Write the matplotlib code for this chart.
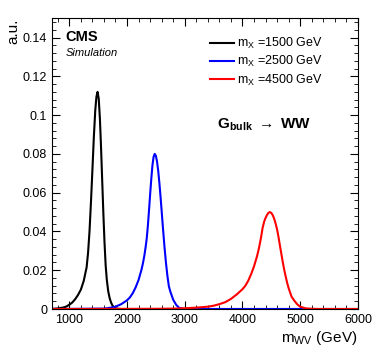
import numpy as np
import matplotlib
matplotlib.use('Agg')
import matplotlib.pyplot as plt
from matplotlib.ticker import MultipleLocator, FuncFormatter

plt.rcParams['font.family'] = ['Liberation Sans', 'DejaVu Sans']
plt.rcParams['mathtext.fontset'] = 'custom'
plt.rcParams['mathtext.rm'] = 'Liberation Sans'
plt.rcParams['mathtext.it'] = 'Liberation Sans:italic'
plt.rcParams['mathtext.bf'] = 'Liberation Sans:bold'

# signal shapes (mass in GeV, a.u.)
m1500 = [700, 800, 900, 950, 1000, 1050, 1100, 1150, 1200, 1250, 1275, 1300, 1325,
         1350, 1375, 1400, 1425, 1450, 1470, 1490, 1510, 1530, 1550, 1570, 1590,
         1610, 1630, 1650, 1675, 1700, 1725, 1750, 1775, 1800, 1850, 1900, 6000]
y1500 = [0.0001, 0.0003, 0.0008, 0.0013, 0.0022, 0.0033, 0.0050, 0.0072, 0.0100,
         0.0145, 0.018, 0.0215, 0.029, 0.040, 0.055, 0.0715, 0.0886, 0.1025, 0.1095,
         0.112, 0.1084, 0.0982, 0.0833, 0.0662, 0.0493, 0.0343, 0.0224, 0.015, 0.009,
         0.0055, 0.0032, 0.0017, 0.0008, 0.0004, 0.0001, 0.0, 0.0]

m2500 = [700, 1600, 1700, 1800, 1900, 2000, 2050, 2100, 2150, 2200, 2250, 2275, 2300,
         2320, 2340, 2360, 2380, 2400, 2420, 2440, 2460, 2480, 2500, 2520, 2540, 2560,
         2580, 2600, 2625, 2650, 2675, 2700, 2725, 2750, 2800, 2850, 2900, 2950, 3000,
         6000]
y2500 = [0.0, 0.0002, 0.0006, 0.0012, 0.0025, 0.0045, 0.006, 0.0082, 0.0112, 0.0150,
         0.0202, 0.0235, 0.0275, 0.0315, 0.036, 0.0425, 0.0505, 0.0590, 0.0670, 0.0740,
         0.0785, 0.0800, 0.079, 0.076, 0.0713, 0.0652, 0.0581, 0.0505, 0.0408, 0.0317,
         0.0237, 0.017, 0.0117, 0.009, 0.0048, 0.0022, 0.0007, 0.0002, 0.0, 0.0]

m4500 = [700, 2500, 2800, 3000, 3200, 3400, 3500, 3600, 3700, 3800, 3900, 4000, 4050,
         4100, 4150, 4200, 4250, 4275, 4300, 4325, 4350, 4375, 4400, 4425, 4450, 4475,
         4500, 4525, 4550, 4575, 4600, 4625, 4650, 4675, 4700, 4725, 4750, 4775, 4800,
         4850, 4900, 4950, 5000, 5100, 5200, 5300, 6000]
y4500 = [0.0, 0.0001, 0.0002, 0.0004, 0.0007, 0.0012, 0.0017, 0.0025, 0.0035, 0.0052,
         0.0075, 0.0102, 0.012, 0.0146, 0.018, 0.022, 0.027, 0.030, 0.0335, 0.0375,
         0.042, 0.045, 0.047, 0.0485, 0.0496, 0.050, 0.0495, 0.0484, 0.0465, 0.044,
         0.041, 0.037, 0.0325, 0.0282, 0.0239, 0.020, 0.0166, 0.0134, 0.0107, 0.0064,
         0.0042, 0.0024, 0.0012, 0.0003, 0.0001, 0.0, 0.0]

labels = [r'm$_{\rm X}$ =1500 GeV', r'm$_{\rm X}$ =2500 GeV', r'm$_{\rm X}$ =4500 GeV']
colors = ['black', 'blue', 'red']

fig = plt.figure(figsize=(3.74, 3.56), dpi=100)
ax = fig.add_axes([0.139, 0.132, 0.818, 0.817])

for xs, ys, lab, c in zip([m1500, m2500, m4500], [y1500, y2500, y4500], labels, colors):
    ax.plot(xs, ys, color=c, lw=1.5, label=lab)

ax.set_xlim(700, 6000)
ax.set_ylim(0, 0.15)
ax.xaxis.set_major_locator(MultipleLocator(1000))
ax.xaxis.set_minor_locator(MultipleLocator(200))
ax.yaxis.set_major_locator(MultipleLocator(0.02))
ax.yaxis.set_minor_locator(MultipleLocator(0.004))
ax.yaxis.set_major_formatter(FuncFormatter(lambda v, p: '%g' % round(v, 4)))
ax.tick_params(which='both', direction='in', top=True, right=True, labelsize=9)
ax.tick_params(which='major', length=6)
ax.tick_params(which='minor', length=3)

ax.set_ylabel('a.u.', fontsize=11, loc='top', labelpad=2)
ax.set_xlabel(r'm$_{\rm WV}$ (GeV)', fontsize=11, loc='right', labelpad=2)

ax.text(0.045, 0.935, 'CMS', transform=ax.transAxes, fontsize=10.5, fontweight='bold', va='center')
ax.text(0.045, 0.88, 'Simulation', transform=ax.transAxes, fontsize=8, style='italic', va='center')
ax.text(0.54, 0.635, r'$\mathbf{G_{bulk}}$ $\rightarrow$ $\mathbf{WW}$', transform=ax.transAxes,
        fontsize=11, va='center')

ax.legend(loc='upper left', bbox_to_anchor=(0.5, 0.956), frameon=False, fontsize=9,
          handlelength=1.9, handletextpad=0.3, labelspacing=0.25, borderaxespad=0)

fig.savefig('out.png', dpi=100)
